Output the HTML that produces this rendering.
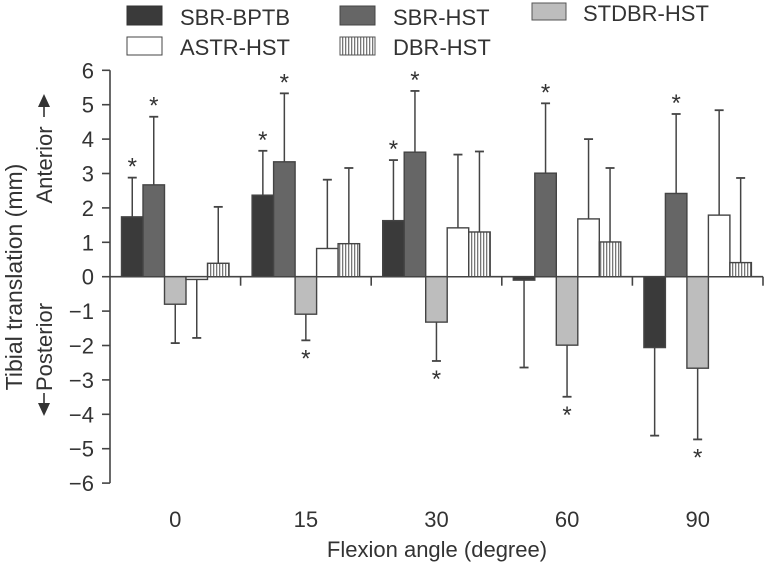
<!DOCTYPE html>
<html><head><meta charset="utf-8"><style>
body{margin:0;background:#fff}
svg{display:block;font-family:"Liberation Sans",Arial,sans-serif}
</style></head><body>
<svg id="chart" width="765" height="566" viewBox="0 0 765 566">
<defs>
<pattern id="vstripe" patternUnits="userSpaceOnUse" width="3" height="4">
<rect width="3" height="4" fill="#fff"/><rect width="1.3" height="4" fill="#777"/>
</pattern>
</defs>
<g id="legend">
<g><rect x="127" y="6" width="35" height="19" fill="#3a3a3a" stroke="#333"/><text x="180" y="25" font-size="22" fill="#333">SBR-BPTB</text></g>
<g><rect x="340" y="6" width="35" height="19" fill="#666" stroke="#444"/><text x="393" y="25" font-size="22" fill="#333">SBR-HST</text></g>
<g><rect x="532" y="3" width="34" height="17" fill="#bdbdbd" stroke="#555"/><text x="583" y="21" font-size="22" fill="#333">STDBR-HST</text></g>
<g><rect x="127" y="37" width="35" height="18" fill="#fff" stroke="#444"/><text x="180" y="55" font-size="22" fill="#333">ASTR-HST</text></g>
<g><rect x="340" y="37" width="35" height="18" fill="url(#vstripe)" stroke="#555"/><text x="393" y="55" font-size="22" fill="#333">DBR-HST</text></g>
</g>
<g id="yaxis-labels">
<text transform="translate(22,277) rotate(-90)" text-anchor="middle" font-size="23" fill="#333">Tibial translation (mm)</text>
<text transform="translate(52,165) rotate(-90)" text-anchor="middle" font-size="22" fill="#333">Anterior</text>
<line x1="44" y1="117" x2="44" y2="106" stroke="#333" stroke-width="1.6"/>
<polygon points="38,107 50,107 44,94" fill="#333"/>
<text transform="translate(52,347) rotate(-90)" text-anchor="middle" font-size="22" fill="#333">Posterior</text>
<line x1="44" y1="393" x2="44" y2="404" stroke="#333" stroke-width="1.6"/>
<polygon points="38,403 50,403 44,416" fill="#333"/>
</g>
<g id="plot"></g>
<text x="437" y="557" text-anchor="middle" font-size="22" fill="#333">Flexion angle (degree)</text>
</svg>
<script>
const categories = ["0","15","30","60","90"];
const seriesNames = ["SBR-BPTB","SBR-HST","STDBR-HST","ASTR-HST","DBR-HST"];
const sbrBptb = [1.74, 2.37, 1.63, -0.1, -2.06];
const sbrBptbErr = [2.88, 3.66, 3.39, -2.64, -4.62];
const sbrHst = [2.67, 3.34, 3.62, 3.01, 2.42];
const sbrHstErr = [4.65, 5.33, 5.4, 5.04, 4.73];
const stdbrHst = [-0.8, -1.09, -1.32, -1.99, -2.66];
const stdbrHstErr = [-1.93, -1.85, -2.45, -3.49, -4.73];
const astrHst = [-0.08, 0.82, 1.42, 1.68, 1.79];
const astrHstErr = [-1.78, 2.82, 3.55, 4.0, 4.84];
const dbrHst = [0.39, 0.96, 1.3, 1.01, 0.41];
const dbrHstErr = [2.03, 3.16, 3.64, 3.16, 2.87];
const sigSbrBptb = [true, true, true, false, false];
const sigSbrHst = [true, true, true, true, true];
const sigStdbrHst = [false, true, true, true, true];
const yTicks = [6,5,4,3,2,1,0,-1,-2,-3,-4,-5,-6];

const NS = "http://www.w3.org/2000/svg";
const plot = document.getElementById("plot");
const X0 = 110, GW = 130.6, PAD = 11.5, BW = 21.5;
function y(v){ return 276.7 - v * 34.4; }
function gx(i){ return X0 + i * GW; }
function mk(tag, attrs, parent){
  const e = document.createElementNS(NS, tag);
  for (const k in attrs) e.setAttribute(k, attrs[k]);
  (parent || plot).appendChild(e);
  return e;
}
const yAxis = mk("line", {x1:X0, y1:y(6), x2:X0, y2:y(-6), stroke:"#444", "stroke-width":1.6});


yTicks.forEach(t => {
  mk("line", {x1:X0-8, y1:y(t), x2:X0, y2:y(t), stroke:"#444", "stroke-width":1.6});
  const tx = mk("text", {x:94, y:y(t)+8, "text-anchor":"end", "font-size":22, fill:"#333"});
  tx.textContent = t < 0 ? "\u2212" + Math.abs(t) : String(t);
  
  
});
const xAxis = mk("line", {x1:X0, y1:y(0), x2:gx(5), y2:y(0), stroke:"#444", "stroke-width":1.6});


for (let i = 1; i <= 5; i++) mk("line", {x1:gx(i), y1:y(0), x2:gx(i), y2:y(0)+9, stroke:"#444", "stroke-width":1.6});
categories.forEach((c, i) => {
  const tx = mk("text", {x:gx(i)+GW/2, y:527, "text-anchor":"middle", "font-size":22, fill:"#333"});
  tx.textContent = c;
  
  
});
const vals = [sbrBptb, sbrHst, stdbrHst, astrHst, dbrHst];
const errs = [sbrBptbErr, sbrHstErr, stdbrHstErr, astrHstErr, dbrHstErr];
const sigs = [sigSbrBptb, sigSbrHst, sigStdbrHst, null, null];
const fills = ["#3a3a3a", "#666", "#bdbdbd", "#fff", "url(#vstripe)"];
categories.forEach((c, i) => {
  vals.forEach((arr, s) => {
    const v = arr[i], e = errs[s][i];
    const bx = gx(i) + PAD + s * BW, cx = bx + BW / 2;
    mk("line", {x1:cx, y1:y(v), x2:cx, y2:y(e), stroke:"#444", "stroke-width":1.5});
    mk("line", {x1:cx-4.5, y1:y(e), x2:cx+4.5, y2:y(e), stroke:"#444", "stroke-width":1.8});
    const r = mk("rect", {x:bx, y:Math.min(y(v), y(0)), width:BW, height:Math.abs(y(v)-y(0)), fill:fills[s], stroke:"#444", "stroke-width":1.4});
    
    
    if (sigs[s] && sigs[s][i]) {
      const up = e >= 0;
      const st = mk("text", {x:cx, y:up ? y(e)-3 : y(e)+26, "text-anchor":"middle", "font-size":24, fill:"#333"});
      st.textContent = "*";
      
      
    }
  });
});
</script>
</body></html>
